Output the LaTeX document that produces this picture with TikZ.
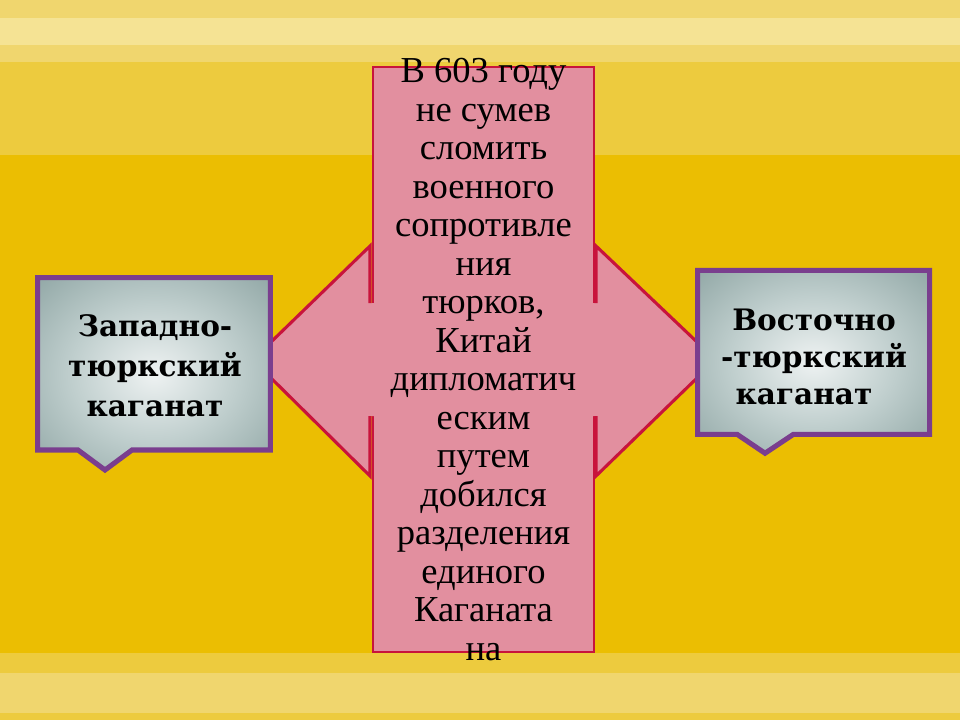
\documentclass[tikz,border=0pt]{standalone}
\usepackage{fontspec}
\usepackage{tikz}
\usepackage{xcolor}
\setmainfont{Liberation Serif}
\newfontfamily\platefont{DejaVu Serif}

\definecolor{zholt}{HTML}{EBBE02}
\definecolor{polosa}{HTML}{EDCB3E}
\definecolor{polosaB}{HTML}{F0D66E}
\definecolor{polosaC}{HTML}{F5E394}
\definecolor{rozovy}{HTML}{E28F9F}
\definecolor{alaya}{HTML}{C8143C}
\definecolor{fiolet}{HTML}{7A3E8E}
\definecolor{plateA}{HTML}{EEF2F2}
\definecolor{plateB}{HTML}{BFCECD}
\definecolor{plateC}{HTML}{6C8886}
\pgfdeclareradialshading{plate}{\pgfpoint{0bp}{0bp}}{color(0bp)=(plateA); color(18bp)=(plateB); color(50bp)=(plateC)}

\tikzset{
  plitka/.style={shading=plate, draw=fiolet, line width=3.6pt, line join=miter},
  strelka/.style={draw=alaya, line width=2.2pt, line join=miter},
}

\begin{document}
\begin{tikzpicture}
  \fill[zholt] (0,0) rectangle (24,-18);
  \fill[polosaB] (0,0) rectangle (24,-1.55);
  \fill[polosaC] (0,-0.45) rectangle (24,-1.125);
  \fill[polosa] (0,-1.55) rectangle (24,-3.875);
  \fill[polosa] (0,-16.33) rectangle (24,-18);
  \fill[polosaB] (0,-16.83) rectangle (24,-17.83);

  \node[draw=alaya, fill=rozovy, line width=2pt, minimum width=5.525cm, minimum height=14.625cm] (kitai) at (12.0875,-8.9875) {};

  \fill[rozovy] (6.775,-8.55) -- (9.25,-6.15) -- (9.25,-7.575) -- (14.9,-7.575) -- (14.9,-6.15) -- (17.425,-8.55)
    -- (17.425,-9.45) -- (14.9,-11.9) -- (14.9,-10.4) -- (9.25,-10.4) -- (9.25,-11.9) -- (6.775,-9.45) -- cycle;
  \draw[strelka] (9.25,-7.575) -- (9.25,-6.15) -- (6.775,-8.55);
  \draw[strelka] (6.775,-9.45) -- (9.25,-11.9) -- (9.25,-10.4);
  \draw[strelka] (14.9,-7.575) -- (14.9,-6.15) -- (17.425,-8.55);
  \draw[strelka] (17.425,-9.45) -- (14.9,-11.9) -- (14.9,-10.4);

  \shadedraw[plitka] (0.94,-6.94) -- (6.76,-6.94) -- (6.76,-11.25) -- (3.3,-11.25) -- (2.625,-11.75) -- (1.95,-11.25) -- (0.94,-11.25) -- cycle;
  \shadedraw[plitka] (17.44,-6.76) -- (23.24,-6.76) -- (23.24,-10.86) -- (19.83,-10.86) -- (19.125,-11.33) -- (18.43,-10.86) -- (17.44,-10.86) -- cycle;

  \node[align=center, font=\platefont\bfseries\fontsize{21}{28.4}\selectfont] (zapad) at (3.875,-9.15) {Западно-\\тюркский\\каганат};
  \node[align=center, font=\platefont\bfseries\fontsize{21}{26.3}\selectfont] (vostok) at (20.35,-8.925) {Восточно\\-тюркский\\каганат\hspace*{0.5cm}};

  \node[align=center, font=\fontsize{26}{27.4}\selectfont] (tekst) at (kitai.center) {В 603 году\\не сумев\\сломить\\военного\\сопротивле\\ния\\тюрков,\\Китай\\дипломатич\\еским\\путем\\добился\\разделения\\единого\\Каганата\\на};
\end{tikzpicture}
\end{document}
